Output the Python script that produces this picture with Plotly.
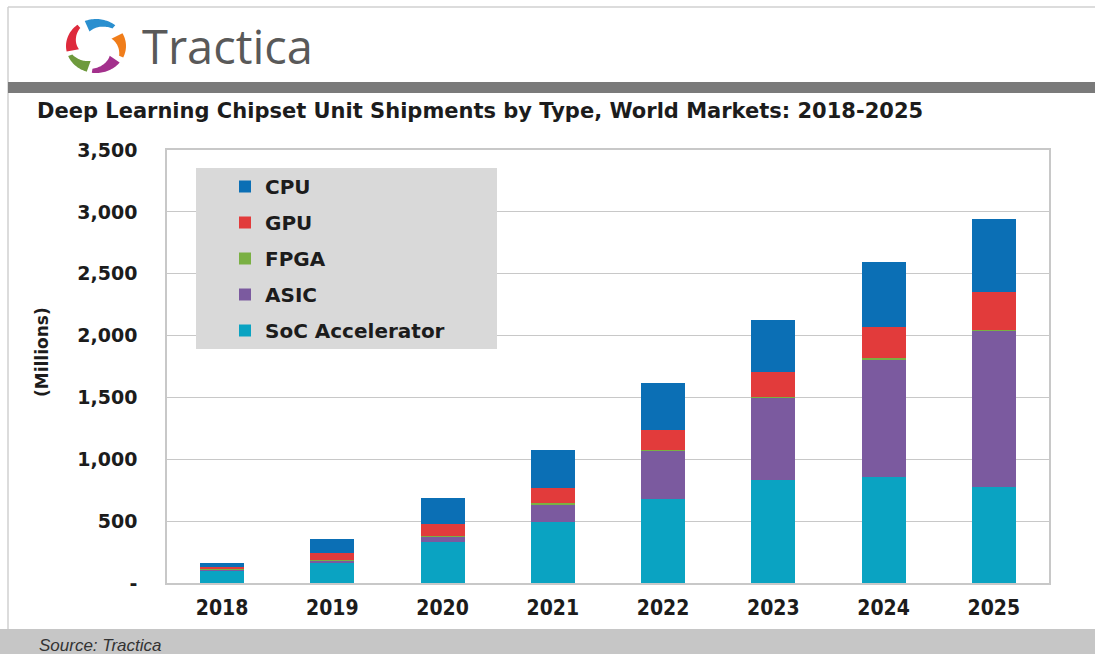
import numpy as np
import plotly.graph_objects as go

# ---------------- data ----------------
years = ["2018", "2019", "2020", "2021", "2022", "2023", "2024", "2025"]
soc_accelerator = [100, 162, 334, 496, 677, 833, 854, 778]
asic = [8, 18, 40, 142, 392, 667, 956, 1261]
fpga = [2, 3, 6, 6, 6, 6, 6, 6]
gpu = [22, 62, 100, 122, 162, 202, 256, 310]
cpu = [32, 111, 207, 309, 377, 418, 525, 585]

y_tickvals = [0, 500, 1000, 1500, 2000, 2500, 3000, 3500]
y_ticktext = ["-", "500", "1,000", "1,500", "2,000", "2,500", "3,000", "3,500"]

# (name, values, colour, legend rank)
series = [
    ("SoC Accelerator", soc_accelerator, "#0aa3c2", 5),
    ("ASIC", asic, "#7b5a9f", 4),
    ("FPGA", fpga, "#7ab043", 3),
    ("GPU", gpu, "#e23b3b", 2),
    ("CPU", cpu, "#0b6fb5", 1),
]

# ---------------- geometry helpers ----------------
W, H = 1095, 654
PL, PR, PT, PB = 167, 1049, 150, 583


def px2x(x):
    return (x - PL) / (PR - PL)


def px2y(y):
    return (PB - y) / (PB - PT)


BOLD = "DejaVu Sans"
TXT = "#1c1c1c"

fig = go.Figure()
for name, vals, col, rank in series:
    fig.add_trace(go.Bar(
        x=years, y=vals, name=name, marker=dict(color=col, line=dict(width=0)),
        legendgroup=name, legendrank=rank,
    ))

shapes = []
# outer frame lines
shapes.append(dict(type="line", xref="paper", yref="paper",
                   x0=px2x(8), x1=px2x(1095), y0=px2y(7), y1=px2y(7),
                   line=dict(color="#d0d0d0", width=1.5)))
shapes.append(dict(type="line", xref="paper", yref="paper",
                   x0=px2x(8), x1=px2x(8), y0=px2y(7), y1=px2y(629),
                   line=dict(color="#d0d0d0", width=1.5)))
# dark header band
shapes.append(dict(type="rect", xref="paper", yref="paper",
                   x0=px2x(8), x1=px2x(1095), y0=px2y(93), y1=px2y(82),
                   fillcolor="#7a7a7a", line=dict(width=0)))
# footer band
shapes.append(dict(type="rect", xref="paper", yref="paper",
                   x0=px2x(0), x1=px2x(1095), y0=px2y(654), y1=px2y(629),
                   fillcolor="#c6c6c6", line=dict(width=0)))
# legend box
shapes.append(dict(type="rect", xref="paper", yref="paper", layer="above",
                   x0=px2x(196), x1=px2x(497), y0=px2y(349), y1=px2y(168),
                   fillcolor="#d9d9d9", line=dict(width=0)))

# logo: five tapered blades in a ring
cx, cy, rx, ry = 96, 46, 30, 27
blades = [
    (50, 112, "#2a8fcf"),
    (128, 192, "#de2a3c"),
    (202, 252, "#6e9a3d"),
    (262, 322, "#a3308c"),
    (335, 388, "#f07d1a"),
]
for a1, a2, col in blades:
    t = np.radians(np.linspace(a1, a2, 24))
    thick = np.linspace(0.15, 0.42, 24)
    ox = cx + rx * np.cos(t)
    oy = cy - ry * np.sin(t)
    ix = cx + rx * (1 - thick) * np.cos(t)
    iy = cy - ry * (1 - thick) * np.sin(t)
    pts = list(zip(ox, oy)) + list(zip(ix[::-1], iy[::-1]))
    path = "M " + " L ".join(f"{px2x(a):.5f},{px2y(b):.5f}" for a, b in pts) + " Z"
    shapes.append(dict(type="path", xref="paper", yref="paper", path=path,
                       fillcolor=col, line=dict(width=0)))

annotations = [
    dict(text="Tractica", x=px2x(140), y=px2y(46), xref="paper", yref="paper",
         xanchor="left", yanchor="middle", showarrow=False,
         font=dict(family="Open Sans", size=47, color="#595959")),
    dict(text="Deep Learning Chipset Unit Shipments by Type, World Markets: 2018-2025",
         x=px2x(35), y=px2y(111), xref="paper", yref="paper",
         xanchor="left", yanchor="middle", showarrow=False,
         font=dict(family=BOLD, size=21, color=TXT, weight="bold")),
    dict(text="(Millions)", x=px2x(42), y=px2y(352), xref="paper", yref="paper",
         xanchor="center", yanchor="middle", showarrow=False, textangle=-90,
         font=dict(family=BOLD, size=17, color=TXT, weight="bold")),
    dict(text="<i>Source: Tractica</i>", x=px2x(37), y=px2y(645), xref="paper", yref="paper",
         xanchor="left", yanchor="middle", showarrow=False,
         font=dict(family="Liberation Sans Narrow, Liberation Sans, sans-serif", size=17, color="#333333")),
]

fig.update_layout(
    width=W, height=H,
    margin=dict(l=PL, r=W - PR, t=PT, b=H - PB),
    paper_bgcolor="white", plot_bgcolor="white",
    barmode="stack", bargap=0.6,
    shapes=shapes, annotations=annotations,
    legend=dict(x=px2x(225), y=px2y(167), xanchor="left", yanchor="top",
                bgcolor="rgba(0,0,0,0)", traceorder="grouped",
                tracegroupgap=7,
                font=dict(family=BOLD, size=20, color=TXT, weight="bold")),
    xaxis=dict(showgrid=False, showline=True, linecolor="#c8c8c8", linewidth=1.5,
               mirror=True, ticks="", ticklabelstandoff=5,
               tickfont=dict(family="DejaVu Sans Condensed, DejaVu Sans", size=21,
                             color=TXT, weight="bold")),
    yaxis=dict(range=[0, 3500], tickvals=y_tickvals, ticktext=y_ticktext,
               showgrid=True, gridcolor="#c8c8c8", gridwidth=1.3,
               showline=True, linecolor="#c8c8c8", linewidth=1.5, mirror=True,
               ticks="", ticklabelstandoff=24, zeroline=False,
               tickfont=dict(family=BOLD, size=19, color=TXT, weight="bold")),
)

fig.write_html("out.html")
